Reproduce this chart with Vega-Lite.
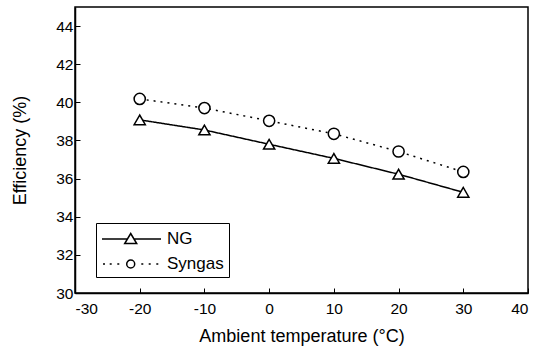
{
  "$schema": "https://vega.github.io/schema/vega-lite/v6.json",
  "width": 453,
  "height": 286,
  "autosize": {"type": "none"},
  "padding": {"left": 75, "top": 7, "right": 9, "bottom": 61},
  "background": "white",
  "config": {
    "font": "Liberation Sans",
    "view": {"stroke": "black", "strokeWidth": 1.5},
    "axis": {
      "domainColor": "black", "domainWidth": 1.5,
      "tickColor": "black", "tickWidth": 1, "tickSize": -5,
      "labelColor": "black", "labelFont": "Liberation Sans", "labelFontSize": 15.5,
      "titleColor": "black", "titleFont": "Liberation Sans", "titleFontSize": 18, "titleFontWeight": "normal",
      "grid": false
    }
  },
  "data": {
    "values": [
      {"series": "NG", "temp": -20, "eff": 39.08},
      {"series": "NG", "temp": -10, "eff": 38.55},
      {"series": "NG", "temp": 0, "eff": 37.8},
      {"series": "NG", "temp": 10, "eff": 37.06},
      {"series": "NG", "temp": 20, "eff": 36.23},
      {"series": "NG", "temp": 30, "eff": 35.28},
      {"series": "Syngas", "temp": -20, "eff": 40.18},
      {"series": "Syngas", "temp": -10, "eff": 39.7},
      {"series": "Syngas", "temp": 0, "eff": 39.03},
      {"series": "Syngas", "temp": 10, "eff": 38.35},
      {"series": "Syngas", "temp": 20, "eff": 37.42},
      {"series": "Syngas", "temp": 30, "eff": 36.35}
    ]
  },
  "encoding": {
    "x": {
      "field": "temp", "type": "quantitative",
      "scale": {"domain": [-30, 40], "nice": false, "zero": false},
      "axis": {"values": [-30, -20, -10, 0, 10, 20, 30, 40], "labelExpr": "'' + datum.value", "title": "Ambient temperature (°C)", "labelPadding": 13, "titlePadding": 11}
    },
    "y": {
      "field": "eff", "type": "quantitative",
      "scale": {"domain": [30, 45], "nice": false, "zero": false},
      "axis": {"values": [30, 32, 34, 36, 38, 40, 42, 44], "title": "Efficiency (%)", "labelPadding": 7, "titlePadding": 26}
    }
  },
  "layer": [
    {
      "mark": {"type": "line", "color": "black", "strokeWidth": 1.5},
      "encoding": {
        "strokeDash": {
          "field": "series", "type": "nominal",
          "scale": {"domain": ["NG", "Syngas"], "range": [[1, 0], [2, 5]]},
          "legend": null
        }
      }
    },
    {
      "mark": {"type": "point", "filled": true, "fill": "white", "stroke": "black", "strokeWidth": 1.5, "size": 125, "opacity": 1},
      "encoding": {
        "shape": {
          "field": "series", "type": "nominal",
          "scale": {"domain": ["NG", "Syngas"], "range": ["triangle-up", "circle"]},
          "legend": null
        }
      }
    },
    {
      "mark": {"type": "point", "opacity": 0},
      "encoding": {
        "shape": {
          "field": "series", "type": "nominal",
          "scale": {
            "domain": ["NG", "Syngas"],
            "range": [
              "M-1,0H1.54M2.2,0H4.9M1.87,-0.55L2.47,0.45H1.27Z",
              "M-0.9,0H-0.7M-0.23,0H-0.03M0.53,0H0.73M1.47,0A0.4,0.4 0 1,0 2.27,0A0.4,0.4 0 1,0 1.47,0M2.93,0H3.13M3.67,0H3.87M4.43,0H4.63"
            ]
          },
          "legend": {
            "title": null,
            "orient": "none",
            "legendX": 21,
            "legendY": 216,
            "direction": "vertical",
            "padding": 5,
            "rowPadding": 6,
            "strokeColor": "black",
            "fillColor": "white",
            "symbolSize": 400,
            "symbolStrokeColor": "black",
            "symbolFillColor": "white",
            "symbolStrokeWidth": 1.5,
            "symbolOpacity": 1,
            "labelOffset": 44,
            "labelFont": "Liberation Sans",
            "labelFontSize": 17,
            "labelColor": "black",
            "encode": {"symbols": {"update": {"opacity": {"value": 1}}}}
          }
        }
      }
    }
  ],
  "resolve": {"scale": {"shape": "independent"}}
}
